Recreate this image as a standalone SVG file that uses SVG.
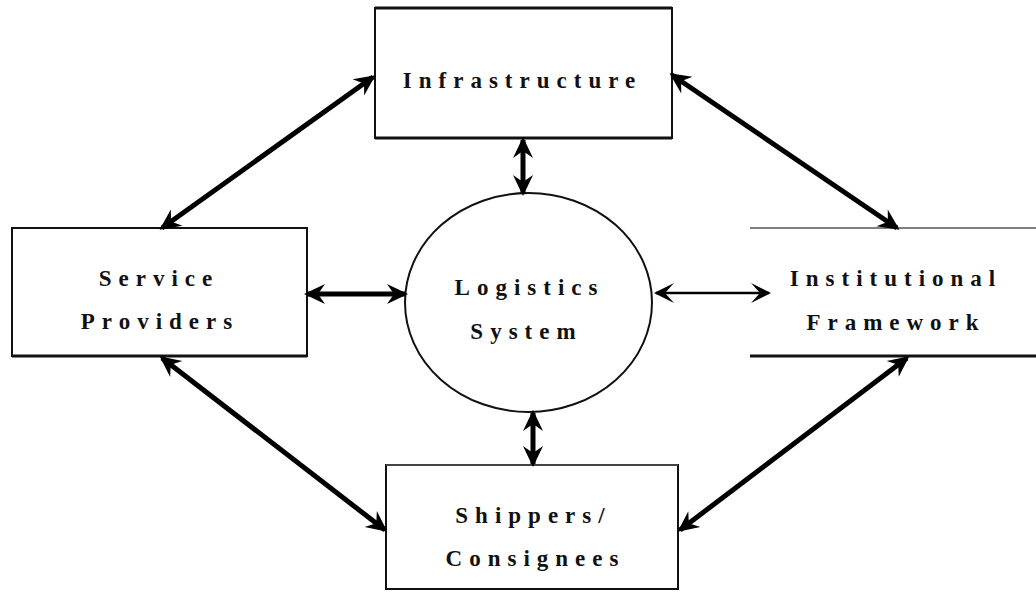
<svg xmlns="http://www.w3.org/2000/svg" width="1036" height="592" viewBox="0 0 1036 592">
<style>
.box{fill:#fff;stroke:#111;stroke-width:2}
.thin{stroke:#555;stroke-width:1.5;fill:none}
.thick{stroke:#111;stroke-width:3;fill:none}
.lbl{font-family:"Liberation Serif","Times New Roman",serif;font-weight:bold;font-size:23px;letter-spacing:7px;fill:#111;text-anchor:middle}
.arr{stroke:#000;stroke-width:5;fill:none;marker-start:url(#ah);marker-end:url(#ah)}
.arr2{stroke:#000;stroke-width:2.5;fill:none;marker-start:url(#ah2);marker-end:url(#ah2)}
</style>
<defs>
<marker id="ah" markerUnits="userSpaceOnUse" viewBox="-22 -12 26 24" refX="0" refY="0" markerWidth="26" markerHeight="24" orient="auto-start-reverse">
<path d="M3,0 L-18,-10 L-11,0 L-18,10 Z" fill="#000"/>
</marker>
<marker id="ah2" markerUnits="userSpaceOnUse" viewBox="-22 -12 26 24" refX="0" refY="0" markerWidth="26" markerHeight="24" orient="auto-start-reverse">
<path d="M2,0 L-18,-10 L-9,0 L-18,10 Z" fill="#000"/>
</marker>
</defs>
<rect width="1036" height="592" fill="#fff"/>

<g id="infrastructure">
<rect class="box" x="375" y="8" width="297" height="130"/>
<line class="thick" x1="375" y1="8" x2="672" y2="8"/>
<line class="thick" x1="375" y1="138" x2="672" y2="138"/>
<text class="lbl" x="522.5" y="88">Infrastructure</text>
</g>

<g id="service-providers">
<rect class="box" x="12" y="228" width="295" height="128"/>
<line class="thick" x1="12" y1="356" x2="307" y2="356"/>
<text class="lbl" x="159" y="286">Service</text>
<text class="lbl" x="160" y="329">Providers</text>
</g>

<g id="logistics-system">
<ellipse cx="528.5" cy="302.5" rx="123.5" ry="109.5" fill="#fff" stroke="#111" stroke-width="2"/>
<text class="lbl" x="529.5" y="295">Logistics</text>
<text class="lbl" x="526.5" y="339">System</text>
</g>

<g id="institutional-framework">
<line class="thin" x1="750" y1="228" x2="1036" y2="228"/>
<line class="thick" x1="750" y1="356" x2="1036" y2="356"/>
<text class="lbl" x="896" y="286">Institutional</text>
<text class="lbl" x="896" y="330">Framework</text>
</g>

<g id="shippers-consignees">
<rect class="box" x="386" y="465" width="292" height="124"/>
<line class="thin" x1="386" y1="465" x2="678" y2="465"/>
<text class="lbl" x="533.5" y="523">Shippers/</text>
<text class="lbl" x="535.5" y="566">Consignees</text>
</g>

<g id="connectors">
<line class="arr" x1="373" y1="77" x2="162" y2="228"/>
<line class="arr" x1="672" y1="75" x2="897" y2="228"/>
<line class="arr" x1="162" y1="358" x2="385" y2="530"/>
<line class="arr" x1="907" y1="358" x2="680" y2="530"/>
<line class="arr" x1="307" y1="294" x2="405" y2="294"/>
<line class="arr2" x1="656" y1="293" x2="769" y2="293"/>
<line class="arr" x1="523" y1="140" x2="523" y2="193"/>
<line class="arr" x1="533" y1="413" x2="533" y2="464"/>
</g>
</svg>
